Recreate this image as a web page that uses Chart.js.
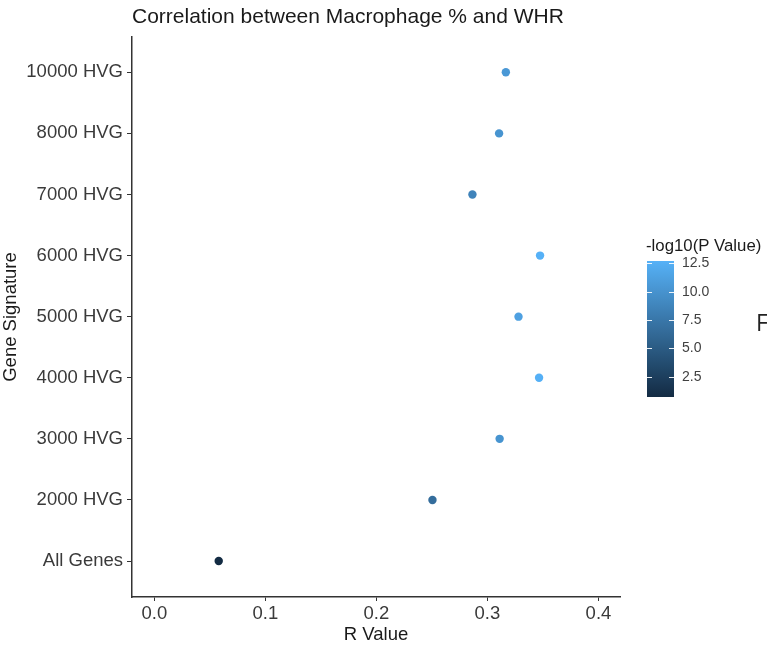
<!DOCTYPE html>
<html>
<head>
<meta charset="utf-8">
<script src="https://cdn.jsdelivr.net/npm/chart.js@4.4.0/dist/chart.umd.min.js"></script>
<style>
  html, body { margin: 0; padding: 0; background: #fff; }
  canvas { display: block; }
</style>
</head>
<body>
<canvas id="corrChart" width="767" height="656"></canvas>
<script>
// Correlation between macrophage % and WHR, one dot per gene signature
const signatures = ['All Genes', '2000 HVG', '3000 HVG', '4000 HVG', '5000 HVG', '6000 HVG', '7000 HVG', '8000 HVG', '10000 HVG'];
const rValues = [0.058, 0.2505, 0.311, 0.3465, 0.328, 0.3474, 0.2865, 0.3105, 0.3166];
const logP = [0.7, 6.6, 10.1, 12.6, 11.2, 12.7, 8.6, 10.1, 10.5];
const xTicks = [0.0, 0.1, 0.2, 0.3, 0.4];
const legendTicks = [2.5, 5.0, 7.5, 10.0, 12.5];

const FONT = '"Liberation Sans", Arial, sans-serif';
const LOW = [19, 43, 67];     // #132B43
const HIGH = [86, 177, 247];  // #56B1F7
const pMin = Math.min(...logP), pMax = Math.max(...logP);

function colourFor(v) {
    const t = Math.max(0, Math.min(1, (v - pMin) / (pMax - pMin)));
    const c = LOW.map((lo, i) => Math.round(lo + (HIGH[i] - lo) * t));
    return `rgb(${c[0]},${c[1]},${c[2]})`;
}

const points = rValues.map((r, i) => ({ x: r, y: i }));

// title, colour bar and stray label drawn on top of the chart
const overlay = {
    id: 'overlay',
    afterDraw(chart) {
        const ctx = chart.ctx;
        const area = chart.chartArea;
        ctx.save();

        ctx.font = `21px ${FONT}`;
        ctx.fillStyle = '#1a1a1a';
        ctx.textAlign = 'left';
        ctx.textBaseline = 'alphabetic';
        ctx.fillText('Correlation between Macrophage % and WHR', area.left, 23);

        // colour bar
        const bx = 647, bw = 27, top = 261, bottom = 397;
        const yOf = v => bottom - (v - pMin) / (pMax - pMin) * (bottom - top);
        const grad = ctx.createLinearGradient(0, bottom, 0, top);
        for (let s = 0; s <= 10; s++) {
            grad.addColorStop(s / 10, colourFor(pMin + (pMax - pMin) * s / 10));
        }
        ctx.fillStyle = grad;
        ctx.fillRect(bx, top, bw, bottom - top);

        ctx.strokeStyle = 'rgba(255,255,255,0.9)';
        ctx.lineWidth = 1;
        ctx.font = `14px ${FONT}`;
        ctx.fillStyle = '#404040';
        ctx.textBaseline = 'middle';
        legendTicks.forEach(v => {
            const y = Math.round(yOf(v)) + 0.5;
            ctx.beginPath();
            ctx.moveTo(bx, y); ctx.lineTo(bx + 5, y);
            ctx.moveTo(bx + bw - 5, y); ctx.lineTo(bx + bw, y);
            ctx.stroke();
            ctx.fillText(v.toFixed(1), 682, y);
        });

        ctx.font = `16.8px ${FONT}`;
        ctx.fillStyle = '#1a1a1a';
        ctx.fillText('-log10(P Value)', 646, 246);

        ctx.font = '23px "Open Sans", sans-serif';
        ctx.fillStyle = '#222';
        ctx.textBaseline = 'alphabetic';
        ctx.fillText('F', 756, 331);

        ctx.restore();
    }
};

new Chart(document.getElementById('corrChart'), {
    type: 'scatter',
    data: {
        datasets: [{
            data: points,
            backgroundColor: logP.map(colourFor),
            borderWidth: 0,
            pointRadius: 4.2,
            pointHoverRadius: 4.2
        }]
    },
    options: {
        responsive: false,
        animation: false,
        devicePixelRatio: 1,
        layout: { padding: { top: 37, right: 147, left: 0, bottom: 0 } },
        plugins: { legend: { display: false }, tooltip: { enabled: false } },
        scales: {
            x: {
                type: 'linear',
                min: -0.0201,
                max: 0.4194,
                afterBuildTicks: s => { s.ticks = xTicks.map(v => ({ value: v })); },
                afterFit: s => { s.height = 59; },
                border: { color: '#333', width: 1.5 },
                grid: { drawOnChartArea: false, drawTicks: true, tickLength: 4, tickColor: '#333' },
                ticks: {
                    color: '#3a3a3a',
                    font: { family: FONT, size: 18.5 },
                    padding: 2,
                    callback: v => v.toFixed(1)
                },
                title: {
                    display: true,
                    text: 'R Value',
                    color: '#1a1a1a',
                    font: { family: FONT, size: 18.5 },
                    padding: { top: 0, bottom: 10 }
                }
            },
            y: {
                type: 'linear',
                min: -0.589,
                max: 8.578,
                afterBuildTicks: s => { s.ticks = signatures.map((_, i) => ({ value: i })); },
                afterFit: s => { s.width = 132; },
                border: { color: '#333', width: 1.5 },
                grid: { drawOnChartArea: false, drawTicks: true, tickLength: 5, tickColor: '#333' },
                ticks: {
                    color: '#3a3a3a',
                    font: { family: FONT, size: 18.5 },
                    padding: 4,
                    callback: v => signatures[v]
                },
                title: {
                    display: true,
                    text: 'Gene Signature',
                    color: '#1a1a1a',
                    font: { family: FONT, size: 18.5 },
                    padding: { top: 0, bottom: 0 }
                }
            }
        }
    },
    plugins: [overlay]
});
</script>
</body>
</html>
